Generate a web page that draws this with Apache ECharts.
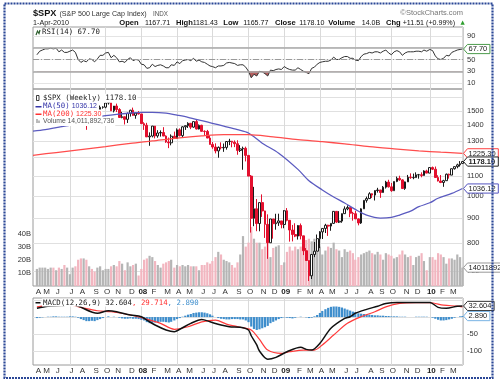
<!DOCTYPE html>
<html><head><meta charset="utf-8">
<script src="https://cdn.jsdelivr.net/npm/echarts@6/dist/echarts.min.js"></script>
<style>html,body{margin:0;padding:0;background:#fff}#c{width:500px;height:381px}</style>
</head><body><div id="c"></div>
<script>
// ---------- DATA ----------
const weeks = [
"2007-04-13","2007-04-20","2007-04-27","2007-05-04","2007-05-11","2007-05-18","2007-05-25","2007-06-01","2007-06-08","2007-06-15","2007-06-22","2007-06-29","2007-07-06","2007-07-13","2007-07-20","2007-07-27","2007-08-03","2007-08-10","2007-08-17","2007-08-24","2007-08-31","2007-09-07","2007-09-14","2007-09-21","2007-09-28","2007-10-05","2007-10-12","2007-10-19","2007-10-26","2007-11-02","2007-11-09","2007-11-16","2007-11-23","2007-11-30","2007-12-07","2007-12-14","2007-12-21","2007-12-28","2008-01-04",
"2008-01-11","2008-01-18","2008-01-25","2008-02-01","2008-02-08","2008-02-15","2008-02-22","2008-02-29","2008-03-07","2008-03-14","2008-03-20","2008-03-28","2008-04-04","2008-04-11","2008-04-18","2008-04-25","2008-05-02","2008-05-09","2008-05-16","2008-05-23","2008-05-30","2008-06-06","2008-06-13","2008-06-20","2008-06-27","2008-07-03","2008-07-11","2008-07-18","2008-07-25","2008-08-01","2008-08-08","2008-08-15","2008-08-22","2008-08-29","2008-09-05","2008-09-12","2008-09-19","2008-09-26","2008-10-03","2008-10-10","2008-10-17","2008-10-24","2008-10-31","2008-11-07","2008-11-14","2008-11-21","2008-11-28","2008-12-05","2008-12-12","2008-12-19","2008-12-26","2009-01-02",
"2009-01-09","2009-01-16","2009-01-23","2009-01-30","2009-02-06","2009-02-13","2009-02-20","2009-02-27","2009-03-06","2009-03-13","2009-03-20","2009-03-27","2009-04-03","2009-04-09","2009-04-17","2009-04-24","2009-05-01","2009-05-08","2009-05-15","2009-05-22","2009-05-29","2009-06-05","2009-06-12","2009-06-19","2009-06-26","2009-07-02","2009-07-10","2009-07-17","2009-07-24","2009-07-31","2009-08-07","2009-08-14","2009-08-21","2009-08-28","2009-09-04","2009-09-11","2009-09-18","2009-09-25","2009-10-02","2009-10-09","2009-10-16","2009-10-23","2009-10-30","2009-11-06","2009-11-13","2009-11-20","2009-11-27","2009-12-04","2009-12-11","2009-12-18","2009-12-24","2009-12-31",
"2010-01-08","2010-01-15","2010-01-22","2010-01-29","2010-02-05","2010-02-12","2010-02-19","2010-02-26","2010-03-05","2010-03-12","2010-03-19","2010-03-26","2010-04-01"];

const openP = [1443.8,1452.9,1484.4,1494.1,1505.6,1505.9,1522.8,1515.7,1536.3,1507.7,1532.9,1502.6,1503.4,1530.4,1552.5,1534.1,1459.0,1433.1,1453.6,1445.9,1479.4,1474.0,1453.6,1484.3,1525.8,1526.8,1557.6,1561.8,1500.6,1535.3,1509.7,1453.7,1458.7,1440.7,1481.1,1504.7,1468.0,1484.5,1478.5,
1411.6,1401.0,1325.2,1330.6,1395.4,1331.3,1350.0,1353.1,1330.6,1293.4,1288.1,1329.5,1315.2,1370.4,1332.8,1390.3,1397.8,1413.9,1388.3,1425.4,1375.9,1400.4,1360.7,1360.0,1317.9,1278.4,1262.9,1239.5,1260.7,1257.8,1260.3,1296.3,1298.2,1292.2,1282.8,1242.3,1251.7,1255.1,1213.3,1099.2,899.2,940.6,876.8,968.8,931.0,873.3,800.0,896.2,876.1,879.7,887.9,872.8,
931.8,890.4,850.1,832.0,825.9,868.6,826.8,770.1,735.1,683.4,756.6,768.5,815.9,842.5,856.6,869.6,866.2,877.5,929.2,882.9,887.0,919.1,940.1,946.2,921.2,918.9,896.4,879.1,940.4,979.3,987.5,1010.5,1004.1,1026.1,1028.9,1016.4,1042.7,1068.3,1044.4,1025.2,1071.5,1087.7,1079.6,1036.2,1069.3,1093.5,1091.4,1091.5,1106.0,1106.4,1102.5,1126.5,
1115.1,1145.0,1136.0,1091.8,1073.9,1066.2,1075.5,1109.2,1104.5,1138.7,1150.0,1159.9,1167.71];
const highP = [1453.1,1484.7,1498.0,1510.3,1517.0,1522.8,1529.0,1540.6,1540.0,1532.9,1540.0,1514.0,1534.0,1555.1,1555.9,1546.0,1488.0,1503.9,1466.0,1479.4,1481.5,1496.0,1489.0,1538.7,1533.0,1560.0,1576.1,1565.0,1535.0,1552.8,1520.0,1493.0,1460.0,1488.9,1508.0,1523.6,1486.0,1499.0,1479.0,
1421.0,1417.0,1354.0,1396.0,1396.0,1368.0,1367.0,1388.0,1335.0,1321.0,1341.0,1359.0,1380.0,1380.0,1395.0,1399.0,1421.0,1416.0,1426.0,1441.0,1406.0,1404.0,1367.0,1370.0,1336.0,1293.0,1285.0,1266.0,1291.0,1284.0,1297.0,1313.0,1300.0,1303.0,1304.0,1274.0,1265.0,1265.0,1215.0,1105.0,1044.3,985.4,969.0,1007.5,932.0,916.0,896.2,896.2,918.6,918.9,887.9,934.7,
943.9,891.0,871.0,877.9,870.8,877.0,827.0,780.1,735.1,758.3,803.0,832.1,845.6,856.6,875.6,871.8,877.5,930.2,930.2,930.2,920.0,951.7,956.2,946.2,927.0,931.0,898.7,943.0,979.8,996.7,1018.0,1012.8,1027.6,1039.5,1028.9,1048.2,1074.8,1080.2,1064.0,1071.5,1096.6,1101.4,1083.0,1071.0,1105.4,1113.7,1112.4,1119.1,1110.7,1119.1,1130.4,1133.0,
1145.4,1150.4,1150.5,1103.7,1104.7,1080.0,1112.4,1112.4,1139.0,1150.0,1166.2,1180.7,1181.43];
const lowP = [1436.0,1452.0,1476.0,1481.0,1491.0,1497.0,1505.0,1510.0,1487.0,1492.0,1500.0,1484.0,1503.0,1503.0,1530.0,1458.0,1433.0,1429.0,1370.6,1430.0,1432.0,1453.0,1439.0,1476.0,1516.0,1519.0,1546.0,1500.6,1489.0,1492.0,1450.0,1448.0,1406.0,1416.0,1460.0,1467.0,1445.0,1474.0,1411.0,
1370.0,1325.0,1270.0,1322.0,1316.0,1320.0,1327.0,1330.0,1288.0,1256.0,1273.0,1312.0,1312.0,1328.0,1324.0,1370.0,1383.0,1375.0,1384.0,1373.0,1373.0,1359.0,1331.0,1317.0,1278.0,1252.0,1225.0,1200.0,1248.0,1234.0,1247.0,1274.0,1261.0,1262.0,1217.0,1233.0,1133.0,1179.0,1099.2,839.8,865.8,845.3,845.0,904.9,818.7,741.0,800.0,815.7,851.4,867.0,857.1,857.3,
886.0,804.3,805.2,821.7,812.2,812.9,754.3,734.5,666.8,672.9,747.0,768.5,779.8,814.5,838.0,826.8,847.1,875.0,878.9,878.9,880.0,919.1,934.0,903.8,888.9,896.0,869.3,875.3,940.0,968.7,987.5,990.0,978.5,1016.0,991.0,1016.0,1036.0,1041.0,1020.0,1025.2,1068.0,1075.0,1033.4,1029.4,1069.3,1085.0,1083.0,1091.0,1085.9,1093.0,1102.0,1114.0,
1115.0,1131.4,1090.2,1071.6,1063.0,1044.5,1075.5,1086.0,1104.5,1134.0,1141.0,1150.0,1165.77];
const closeP = [1452.9,1484.4,1494.1,1505.6,1505.9,1522.8,1515.7,1536.3,1507.7,1532.9,1502.6,1503.4,1530.4,1552.5,1534.1,1459.0,1433.1,1453.6,1445.9,1479.4,1474.0,1453.6,1484.3,1525.8,1526.8,1557.6,1561.8,1500.6,1535.3,1509.7,1453.7,1458.7,1440.7,1481.1,1504.7,1468.0,1484.5,1478.5,1411.6,
1401.0,1325.2,1330.6,1395.4,1331.3,1350.0,1353.1,1330.6,1293.4,1288.1,1329.5,1315.2,1370.4,1332.8,1390.3,1397.8,1413.9,1388.3,1425.4,1375.9,1400.4,1360.7,1360.0,1317.9,1278.4,1262.9,1239.5,1260.7,1257.8,1260.3,1296.3,1298.2,1292.2,1282.8,1242.3,1251.7,1255.1,1213.3,1099.2,899.2,940.6,876.8,968.8,931.0,873.3,800.0,896.2,876.1,879.7,887.9,872.8,931.8,
890.4,850.1,832.0,825.9,868.6,826.8,770.1,735.1,683.4,756.6,768.5,815.9,842.5,856.6,869.6,866.2,877.5,929.2,882.9,887.0,919.1,940.1,946.2,921.2,918.9,896.4,879.1,940.4,979.3,987.5,1010.5,1004.1,1026.1,1028.9,1016.4,1042.7,1068.3,1044.4,1025.2,1071.5,1087.7,1079.6,1036.2,1069.3,1093.5,1091.4,1091.5,1106.0,1106.4,1102.5,1126.5,1115.1,
1145.0,1136.0,1091.8,1073.9,1066.2,1075.5,1109.2,1104.5,1138.7,1150.0,1159.9,1166.6,1178.10];
// weekly volume, billions
const volumeB = [13,14,14,14, 13,14,14,12, 14,13,16,14, 9,14,15,20,21, 21,20,15,13, 11,14,15,12, 13,13,15,16,15, 19,17,12,18, 15,16,17,8,13,
20,21,23,22, 19,16,14,17, 18,19,20,14,16, 15,16,15,16, 15,15,15,12, 16,16,18,17,19, 22,26,24,20, 19,18,16,14, 18,24,38,30,33, 45,36,33,33, 28,30,35,22, 29,30,31,16,18,
26,30,27,30, 28,30,29,35, 36,34,36,30,30, 24,27,30,29, 33,28,27,22, 28,26,27,25,20, 22,24,25,26, 27,25,24,26,24, 20,25,24,23, 21,22,24,27, 24,22,23,16,22, 23,25,19,12,
22,22,20,25, 24,22,17,21, 21,20,24,22,14];
const ma50Dates = ["2007-04-03","2007-05-04","2007-06-01","2007-07-06","2007-08-03","2007-09-07","2007-10-05","2007-11-02","2007-12-07","2008-01-04","2008-02-01","2008-03-07","2008-04-04","2008-05-02","2008-06-06","2008-07-03","2008-08-01","2008-09-05","2008-10-03","2008-11-07","2008-12-19","2009-02-06","2009-03-06","2009-04-09","2009-05-08","2009-06-05","2009-07-02","2009-07-31","2009-09-04","2009-10-02","2009-10-23","2009-11-20","2009-12-11","2010-01-08","2010-01-29","2010-03-05","2010-04-01"];
const ma50 = [1362,1372,1385,1402,1425,1452,1466,1476,1485,1490,1490,1484,1470,1455,1432,1414,1395,1372,1350,1286,1226,1135,1075,1029,995,967,938,913,900,903,913,930,950,968,989,1012,1036.12];
const ma200Dates = ["2007-04-03","2007-06-01","2007-08-03","2007-10-05","2007-12-07","2008-02-01","2008-04-04","2008-06-06","2008-08-01","2008-10-03","2008-12-05","2009-02-06","2009-04-09","2009-06-05","2009-08-07","2009-10-09","2009-12-11","2010-02-05","2010-04-01"];
const ma200 = [1214,1230,1247,1265,1285,1300,1318,1332,1340,1340,1325,1308,1295,1282,1265,1252,1240,1232,1225.30];
const rsi = [58,64,66,68,68,69,68,69,63,66,62,62,64,66,62,50,45,48,46,51,50,46,51,57,57,61,62,53,57,53,46,47,45,50,53,48,50,49,42,
41,35,36,42,38,40,41,39,36,36,41,40,46,43,48,49,50,48,52,47,49,46,45,42,39,38,36,39,39,40,44,45,44,43,40,41,41,37,30,19,25,22,30,29,26,22,32,31,33,34,33,38,
35,33,32,32,36,33,30,28,26,35,37,42,45,46,47,47,49,54,50,50,53,55,55,52,52,49,48,55,59,60,62,61,63,63,61,64,66,61,58,63,65,63,57,61,63,63,63,64,64,63,66,64,
67,65,56,51,50,52,57,56,62,64,66,67,67.70];
const macdIdx = [0,4,9,13,15,22,26,29,34,38,40,43,47,50,52,56,60,63,67,70,74,77,78,80,81,84,87,91,96,98,100,103,107,112,114,116,120,124,127,131,138,143,146,149,153,155];
const macd = [26,32,34,36,32,11,18.5,15.6,6,1,-9,-23.5,-38,-43,-36,-18.5,-7,-14,-23.5,-28.5,-30,-38,-55,-82,-100,-124,-118.5,-102,-89,-95,-97,-77,-33,-4,1,11,22.6,32,40,43,43,43,28.5,25.6,32,32.604];
const signalIdx = [0,6,13,16,22,27,34,39,45,50,55,60,65,69,74,78,81,84,89,92,97,101,104,108,113,118,123,127,132,138,143,148,153,155];
const signal = [30,35,34,28.5,18.5,15.6,6,-4,-18.5,-36,-28.5,-14,-9,-20.6,-30,-38,-66,-97,-107,-102,-97,-97,-82,-53,-18.5,1,15.6,30,40,42,42,35,32,29.714];
const hist = [-3,-2,-1,0,1,1,2,2,1,1,1,1,2,2,1,
-2,-6,-9,-12,-12,-11,-12,-9,-6,
-3,0,2,0,1,0,-2,-4,-5,-5,
-4,-5,-5,-6,-8,
-10,-15,-18,-17,-16,-15,-14,-14,-15,-16,-14,-10,
-6,-3,1,4,7,9,12,13,14,14,13,11,8,
4,0,-3,-5,-6,-7,-7,-6,-6,-6,-7,-7,
-10,-15,-28,-35,-38,-36,-33,-30,-26,-18,-14,-10,-6,-3,-1,
-2,-3,-4,-2,0,1,0,-1,-3,-2,2,6,12,18,
23,27,30,31,31,30,28,25,22,19,16,14,11,10,9,8,
7,6,5,5,4,4,3,3,2,2,2,1,1,1,0,0,0,1,1,1,1,1,0,
-2,-5,-8,-10,-10,-9,-7,-5,-2,0,2,2.89];
const priceLabels = [700,800,900,1000,1100,1300,1400,1500];
const priceGrid = [700,800,900,1000,1100,1200,1300,1400,1500,1600];
const rsiLabels = [10,30,50,90];
const rsiGrid = [10,30,50,70,90];
const macdLabels = [-100,-50];
const macdGrid = [-100,-50,0,50];
const volLabels = [10,20,30,40];
const lastRSI = 67.70, lastClose = 1178.10, lastMA50 = 1036.12, lastMA200 = 1225.30, lastVol = 14011892736;
const lastMACD = 32.604, lastSignal = 29.714, lastHist = 2.890;

// ---------- CHART ----------
const FONT = 'Liberation Sans, Arial, sans-serif';
const MONO = 'DejaVu Sans Mono, monospace';
const T = s => Date.parse(s);
const dates = weeks.map(T);
const XMIN = Date.UTC(2007,3,3), XMAX = Date.UTC(2010,3,2,12);
const monthFirst = [], quarterLines = [];
let pm = '';
weeks.forEach((d,i)=>{const m=d.slice(0,7); if(m!==pm){pm=m; monthFirst.push(dates[i]); const mo=+d.slice(5,7); if(i>0&&(mo===1||mo===4||mo===7||mo===10)) quarterLines.push(dates[i]);}});
const labelMonths = monthFirst.slice(0, -1);
const monthFmt = v => { const d=new Date(v); const m=d.getUTCMonth(); if(m===0) return '{y|'+String(d.getUTCFullYear()).slice(2)+'}'; return 'JFMAMJJASOND'[m]; };

function xAx(g, show){
  return {type:'value', gridIndex:g, min:XMIN, max:XMAX,
    axisLine:{show:false}, axisTick:{show:false, customValues:quarterLines},
    splitLine:{show:true, lineStyle:{color:'#dadada', width:1}},
    axisLabel:{show:show, customValues:labelMonths, formatter:monthFmt, fontSize:8, color:'#333', margin:2, fontFamily:FONT, padding:[0,0,0,3],
      rich:{y:{fontWeight:'bold', fontSize:8, color:'#222', fontFamily:FONT}}}};
}
function rightLbl(vals){ return {customValues:vals, formatter:v=>String(v), fontSize:7.5, color:'#333', margin:4, fontFamily:FONT}; }

const chart = echarts.init(document.getElementById('c'), null, {renderer:'canvas', width:500, height:381});
const rsiPts = dates.map((t,i)=>[t, rsi[i]]);
const option = {
  animation:false,
  backgroundColor:'#fff',
  grid:[
    {left:33, top:27, width:430, height:62, show:true, borderColor:'#9a9a9a', borderWidth:1},
    {left:33, top:89, width:430, height:197, show:true, borderColor:'#9a9a9a', borderWidth:1},
    {left:33, top:298, width:430, height:67, show:true, borderColor:'#9a9a9a', borderWidth:1}
  ],
  xAxis:[xAx(0,false), xAx(1,true), xAx(2,true)],
  yAxis:[
    {gridIndex:0, type:'value', position:'right', min:0, max:105, axisLine:{show:false},
      axisTick:{show:false, customValues:rsiGrid}, splitLine:{show:true, lineStyle:{color:'#e4e4e4'}}, axisLabel:rightLbl(rsiLabels)},
    {gridIndex:1, type:'log', logBase:10, position:'right', min:651, max:1665, axisLine:{show:false},
      axisTick:{show:false, customValues:priceGrid}, splitLine:{show:true, lineStyle:{color:'#e0e0e0'}}, axisLabel:rightLbl(priceLabels)},
    {gridIndex:1, type:'value', position:'left', min:0, max:150e9, axisLine:{show:false}, axisTick:{show:false}, splitLine:{show:false},
      axisLabel:{customValues:volLabels.map(v=>v*1e9), formatter:v=>Math.round(v/1e9)+'B', fontSize:7.5, color:'#333', margin:2, fontFamily:FONT}},
    {gridIndex:2, type:'value', position:'right', min:-141, max:56, axisLine:{show:false},
      axisTick:{show:false, customValues:macdGrid}, splitLine:{show:true, lineStyle:{color:'#e0e0e0'}}, axisLabel:rightLbl(macdLabels)}
  ],
  series:[
    {type:'line', xAxisIndex:0, yAxisIndex:0, data:rsiPts, symbol:'none', lineStyle:{width:0, opacity:0},
      areaStyle:{origin:30, opacity:1, color:'rgba(0,0,0,0)'}, z:2, silent:true},
    {type:'line', xAxisIndex:0, yAxisIndex:0, data:rsiPts, symbol:'none', lineStyle:{color:'#333', width:1}, z:4, silent:true,
      markLine:{silent:true, symbol:['none','none'], label:{show:false},
        data:[{yAxis:70, lineStyle:{color:'#a8a8a8', width:1.6, type:'solid'}},
              {yAxis:30, lineStyle:{color:'#a8a8a8', width:1.6, type:'solid'}},
              {yAxis:50, lineStyle:{color:'#9a9a9a', width:1, type:[6,2,1,2]}}]}},
    {type:'bar', xAxisIndex:1, yAxisIndex:2, barWidth:2.2, z:1, silent:true,
      data:dates.map((t,i)=>({value:[t, volumeB[i]*1e9], itemStyle:{color:(closeP[i] >= (i>0?closeP[i-1]:openP[i])) ? '#b5b5b5' : '#f2b6c0'}}))},
    {type:'candlestick', xAxisIndex:1, yAxisIndex:1, barWidth:2.2, z:3, silent:true,
      encode:{x:0, y:[1,2,3,4]},
      itemStyle:{color:'#ffffff', color0:'#e3102e', borderColor:'#1a1a1a', borderColor0:'#e3102e', borderWidth:1},
      data:dates.map((t,i)=>[t, openP[i], closeP[i], lowP[i], highP[i]])},
    {type:'line', xAxisIndex:1, yAxisIndex:1, data:ma50Dates.map((d,i)=>[T(d), ma50[i]]), symbol:'none', smooth:0.3,
      lineStyle:{color:'#5b5bc0', width:1.3}, z:4, silent:true},
    {type:'line', xAxisIndex:1, yAxisIndex:1, data:ma200Dates.map((d,i)=>[T(d), ma200[i]]), symbol:'none', smooth:0.3,
      lineStyle:{color:'#ff4d4d', width:1.3}, z:4, silent:true},
    {type:'bar', xAxisIndex:2, yAxisIndex:3, barWidth:2.2, z:2, silent:true, itemStyle:{color:'#3d8dcc'},
      data:dates.map((t,i)=>[t, hist[i]])},
    {type:'line', xAxisIndex:2, yAxisIndex:3, data:signalIdx.map((k,i)=>[dates[k], signal[i]]), symbol:'none', smooth:0.3,
      lineStyle:{color:'#ff3b3b', width:1.2}, z:4, silent:true},
    {type:'line', xAxisIndex:2, yAxisIndex:3, data:macdIdx.map((k,i)=>[dates[k], macd[i]]), symbol:'none', smooth:0.3,
      lineStyle:{color:'#111', width:1.5}, z:5, silent:true}
  ]
};
chart.setOption(option);

// ---------- TEXT / TAGS ----------
const py = (ai, v) => chart.convertToPixel({yAxisIndex:ai}, v);
const y30 = py(0, 30);
const fillGrad = new echarts.graphic.LinearGradient(0, 0, 0, 381, [
  {offset:0, color:'rgba(255,255,255,0)'}, {offset:y30/381, color:'rgba(255,255,255,0)'},
  {offset:y30/381, color:'#b65e5e'}, {offset:1, color:'#b65e5e'}], true);
function t(x, y, text, font, fill, extra){ return {type:'text', z:50, style:Object.assign({x, y, text, font, fill:fill||'#222', verticalAlign:'middle'}, extra||{})}; }
const g = [];
function tag(ai, v, text, border, bold){
  const y = py(ai, v);
  let w = 0; for (const ch of text) w += (ch === '.' ? 2.1 : 4.2);
  const x0 = 463.5, x1 = 467.5, x2 = x1 + w + 3.5, h = 4.6;
  g.push({type:'polygon', z:59, shape:{points:[[x0,y],[x1,y-h],[x2,y-h],[x2,y+h],[x1,y+h]]},
    style:{fill:'#fff', stroke:border, lineWidth:1}});
  g.push({type:'text', z:60, style:{x:x1+1, y:y+0.3, text, font:(bold?'bold ':'')+'7.5px '+FONT, fill:'#222', verticalAlign:'middle'}});
}
g.push({type:'rect', z:70, shape:{x:4.5, y:3.5, width:488, height:374.5}, style:{fill:null, stroke:'#2a4796', lineWidth:2.2, lineDash:[2,1]}});
g.push(t(33, 13.5, '$SPX', 'bold 9.2px '+FONT, '#111'));
g.push(t(59.5, 13.8, '(S&P 500 Large Cap Index)', '7.1px '+FONT, '#333'));
g.push(t(153, 13.8, 'INDX', '6.3px '+FONT, '#555'));
g.push(t(463, 13, '©StockCharts.com', '7.5px '+FONT, '#777', {align:'right'}));
g.push(t(33, 22.7, '1-Apr-2010', '7.2px '+FONT, '#222'));
[['Open',119.3,1],['1167.71',145,0],['High',176,1],['1181.43',192.7,0],['Low',223.3,1],['1165.77',243.3,0],
 ['Close',275,1],['1178.10',299.3,0],['Volume',328.3,1],['14.0B',361.7,0],['Chg',386,1],['+11.51 (+0.99%)',402.7,0]]
 .forEach(s=>g.push(t(s[1], 22.7, s[0], s[2]?'bold 7.6px '+FONT:'7.1px '+FONT, '#111')));
g.push(t(460.5, 22.3, '▲', '5.5px DejaVu Sans', '#2e9e2e'));
// RSI legend
g.push({type:'polyline', z:51, shape:{points:[[36,35],[37.5,31],[39,33.5],[40,30]]}, style:{stroke:'#2b5d2b', lineWidth:1.2, fill:null}});
g.push(t(42, 32.3, 'RSI(14) 67.70', '7.4px '+MONO, '#222'));
// main legend
g.push({type:'rect', z:49, shape:{x:34, y:93, width:8, height:33}, style:{fill:'#fff'}});
g.push({type:'rect', z:51, shape:{x:36.5, y:95.5, width:2.5, height:5}, style:{fill:'#fff', stroke:'#111', lineWidth:0.8}});
g.push(t(42, 98.3, '$SPX (Weekly) 1178.10', '7.4px '+MONO, '#222', {backgroundColor:'#fff', padding:[1,1,1,1]}));
g.push({type:'rect', z:51, shape:{x:35.5, y:106, width:6, height:1.5}, style:{fill:'#3434a8'}});
g.push(t(42, 106.3, '{l|MA(50)}{v| 1036.12}', '7px '+FONT, '#3434a8', {backgroundColor:'#fff', padding:[1,1,1,1],
  rich:{l:{font:'7.4px '+MONO, fill:'#3434a8'}, v:{font:'7px '+FONT, fill:'#3434a8'}}}));
g.push({type:'rect', z:51, shape:{x:35.5, y:113.5, width:6, height:1.5}, style:{fill:'#ff3030'}});
g.push(t(42, 114, '{l|MA(200)}{v| 1225.30}', '7px '+FONT, '#ff3030', {backgroundColor:'#fff', padding:[1,1,1,1],
  rich:{l:{font:'7.4px '+MONO, fill:'#ff3030'}, v:{font:'7px '+FONT, fill:'#ff3030'}}}));
g.push({type:'rect', z:51, shape:{x:36.5, y:119, width:1, height:4}, style:{fill:'#777'}});
g.push({type:'rect', z:51, shape:{x:38.5, y:120.5, width:1, height:2.5}, style:{fill:'#777'}});
g.push(t(42, 121.5, 'Volume 14,011,892,736', '6.8px '+FONT, '#555', {backgroundColor:'#fff', padding:[1,1,1,1]}));
// MACD legend
g.push({type:'rect', z:51, shape:{x:35.5, y:302, width:5, height:1.5}, style:{fill:'#111'}});
g.push(t(42, 302.5, '{k|MACD(12,26,9) 32.604}{r|, 29.714}{b|, 2.890}', '7.4px '+MONO, '#222', {backgroundColor:'#fff', padding:[1,1,0,1],
  rich:{k:{font:'7.4px '+MONO, fill:'#222'}, r:{font:'7.4px '+MONO, fill:'#ff3030'}, b:{font:'7.4px '+MONO, fill:'#3d8dcc'}}}));
// value tags
tag(0, lastRSI, '67.70', '#4c9c4c');
tag(1, lastMA200, '1225.30', '#ff4040');
tag(1, lastClose, '1178.10', '#222', true);
tag(1, lastMA50, '1036.12', '#5555c0');
tag(2, lastVol, '14011892736', '#999');
tag(3, lastMACD, '32.604', '#333');
tag(3, lastHist, '2.890', '#7ab4e4');
chart.setOption({graphic:g, series:[{areaStyle:{origin:30, opacity:1, color:fillGrad}}]});
</script></body></html>
